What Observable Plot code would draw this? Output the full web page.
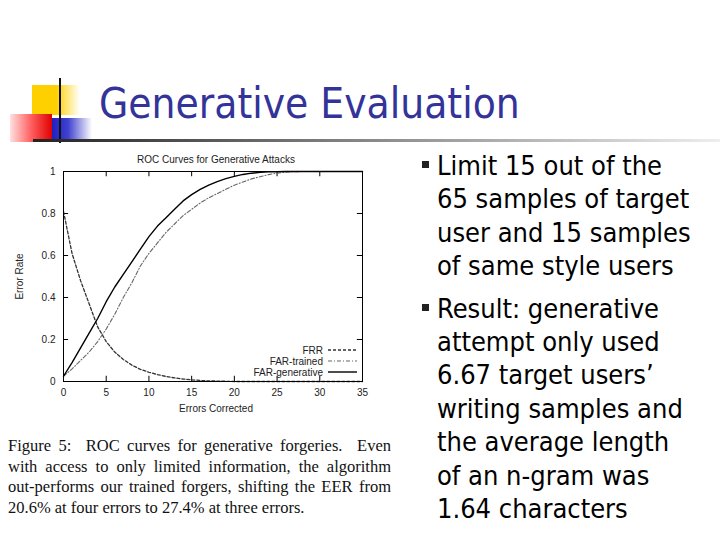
<!DOCTYPE html>
<html>
<head>
<meta charset="utf-8">
<script src="https://cdn.jsdelivr.net/npm/d3@7"></script>
<script src="https://cdn.jsdelivr.net/npm/@observablehq/plot@0.6"></script>
<style>
  body { margin:0; width:720px; height:540px; position:relative; background:#fff; overflow:hidden; }
  .abs { position:absolute; }
  #title { left:99px; top:80px; font-family:"DejaVu Sans Condensed","DejaVu Sans",sans-serif; font-stretch:condensed; font-size:42px; line-height:1.164; color:#333399; white-space:nowrap; }
  #caption { left:8px; top:436px; width:383px; font-family:"Liberation Serif","Times New Roman",serif; font-size:16.5px; line-height:20.5px; text-align:justify; color:#111; }
  #bullets { left:437px; top:149px; font-family:"DejaVu Sans Condensed","DejaVu Sans",sans-serif; font-stretch:condensed; font-size:27px; line-height:33.4px; color:#000; }
  #bullets p { margin:0 0 9px 0; position:relative; }
  #bullets p::before { content:""; position:absolute; left:-15px; top:12px; width:7px; height:7px; background:#222; }
  svg text { font-family:"Liberation Sans",Arial,sans-serif; }
</style>
</head>
<body>
<!-- decoration -->
<div class="abs" style="left:32px;top:85px;width:48px;height:30px;background:linear-gradient(to right,#ffd000 0%,#ffd000 50%,#fff 100%);"></div>
<div class="abs" style="left:10px;top:114px;width:42px;height:28px;background:linear-gradient(to right,#ffe0e0 0%,#ff6060 50%,#e00000 100%);"></div>
<div class="abs" style="left:52px;top:118px;width:40px;height:24px;background:linear-gradient(to right,#2020c0 0%,#4040d0 40%,#fff 100%);"></div>
<div class="abs" style="left:59px;top:78px;width:2px;height:65px;background:#111;"></div>
<div class="abs" style="left:33px;top:139px;width:687px;height:3px;background:linear-gradient(to right,#222 0%,#777 40%,#eee 100%);"></div>
<div id="title" class="abs">Generative Evaluation</div>

<div id="chart" class="abs" style="left:0;top:145px;"></div>

<div id="caption" class="abs">Figure 5:&nbsp; ROC curves for generative forgeries.&nbsp; Even with access to only limited information, the algorithm out-performs our trained forgers, shifting the EER from 20.6% at four errors to 27.4% at three errors.</div>

<div id="bullets" class="abs">
  <p>Limit 15 out of the<br>65 samples of target<br>user and 15 samples<br>of same style users</p>
  <p>Result: generative<br>attempt only used<br>6.67 target users’<br>writing samples and<br>the average length<br>of an n-gram was<br>1.64 characters</p>
</div>

<script>
// Data
const errorsCorrected = [0,1,2,3,4,5,6,7,8,9,10,11,12,13,14,15,16,17,18,19,20,21,22,23,24,25,26,27,28,29,30,31,32,33,34,35];
const frr = [0.81,0.61,0.48,0.37,0.26,0.19,0.14,0.105,0.078,0.058,0.044,0.033,0.024,0.017,0.012,0.008,0.005,0.003,0.002,0.001,0,0,0,0,0,0,0,0,0,0,0,0,0,0,0,0];
const farTrained = [0.025,0.06,0.10,0.14,0.19,0.25,0.32,0.40,0.47,0.55,0.61,0.66,0.71,0.75,0.79,0.82,0.85,0.875,0.895,0.915,0.935,0.95,0.965,0.975,0.985,0.992,0.997,0.999,1,1,1,1,1,1,1,1];
const farGenerative = [0.025,0.09,0.16,0.23,0.30,0.38,0.45,0.51,0.57,0.63,0.69,0.74,0.78,0.82,0.86,0.89,0.915,0.935,0.952,0.966,0.977,0.986,0.992,0.996,0.998,0.999,1,1,1,1,1,1,1,1,1,1];
const seriesNames = ["FRR","FAR-trained","FAR-generative"];
const xTicks = [0,5,10,15,20,25,30,35];
const yTicks = [0,0.2,0.4,0.6,0.8,1];
const chartTitle = "ROC Curves for Generative Attacks";
const xLabel = "Errors Corrected";
const yLabel = "Error Rate";

const styles = {
  "FRR": {stroke:"#333", dash:"3,2", width:1.3},
  "FAR-trained": {stroke:"#666", dash:"4,2,1,2", width:1.1},
  "FAR-generative": {stroke:"#000", dash:null, width:1.4}
};
const seriesValues = [frr, farTrained, farGenerative];
const rows = [];
seriesNames.forEach((s, k) => errorsCorrected.forEach((x, i) => rows.push({series:s, x, y:seriesValues[k][i]})));

const W = 390, H = 275, mL = 63, mR = 28, mT = 26, mB = 39;
const xMax = 35;

const lineMarks = seriesNames.map(s => Plot.line(rows.filter(d => d.series === s), {
  x:"x", y:"y", stroke: styles[s].stroke, strokeWidth: styles[s].width,
  strokeDasharray: styles[s].dash || undefined
}));

const chart = Plot.plot({
  width: W, height: H,
  marginLeft: mL, marginRight: mR, marginTop: mT, marginBottom: mB,
  style: {fontSize:"10px", color:"#222", background:"transparent"},
  x: {domain:[0, xMax]},
  y: {domain:[0, 1]},
  marks: [
    Plot.axisX({ticks: xTicks, tickSize: 0, tickPadding: 7, label: null, tickFormat: d => String(d)}),
    Plot.axisY({ticks: yTicks, tickSize: 0, tickPadding: 8, label: null, tickFormat: d => String(d)}),
    Plot.ruleX(xTicks, {x: d => d, y1: 0, y2: 0.025, stroke:"#000"}),
    Plot.ruleX(xTicks, {x: d => d, y1: 0.975, y2: 1, stroke:"#000"}),
    Plot.ruleY(yTicks, {y: d => d, x1: 0, x2: 0.6, stroke:"#000"}),
    Plot.ruleY(yTicks, {y: d => d, x1: xMax - 0.6, x2: xMax, stroke:"#000"}),
    ...lineMarks,
    Plot.frame({stroke:"#000"}),
    Plot.text([chartTitle], {frameAnchor:"top", dy:-16, dx:3, fontSize:10, fill:"#222"}),
    Plot.text([xLabel], {frameAnchor:"bottom", dy:30, dx:3, fontSize:10, fill:"#222"}),
    Plot.text([yLabel], {frameAnchor:"left", dx:-44, rotate:-90, textAnchor:"middle", fontSize:10, fill:"#222"})
  ]
});
document.getElementById("chart").appendChild(chart);

// legend inside lower right of the frame (gnuplot style)
const svg = d3.select(chart);
const fr = W - mR, fb = H - mB;
const lg = svg.append("g").attr("font-size", 10).attr("fill", "#222");
seriesNames.forEach((s, i) => {
  const y = fb - 31 + i * 11;
  lg.append("text").attr("x", fr - 39).attr("y", y).attr("dy", "0.35em").attr("text-anchor", "end").text(s);
  lg.append("line").attr("x1", fr - 34).attr("x2", fr - 5).attr("y1", y).attr("y2", y)
    .attr("stroke", styles[s].stroke).attr("stroke-width", styles[s].width)
    .attr("stroke-dasharray", styles[s].dash);
});
</script>
</body>
</html>
